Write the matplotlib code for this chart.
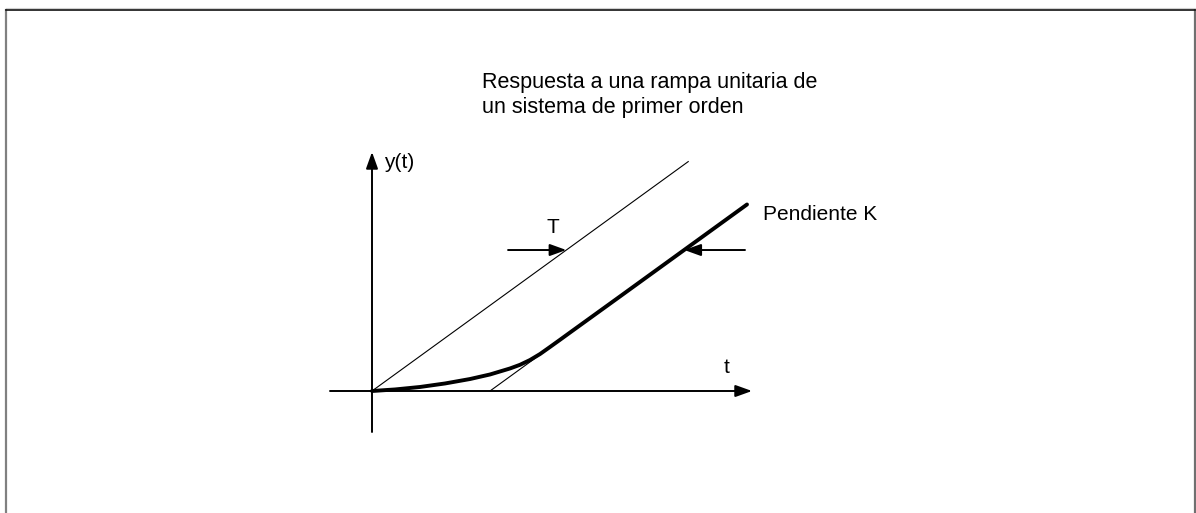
import numpy as np
import matplotlib
matplotlib.use('Agg')
import matplotlib.pyplot as plt

plt.rcParams['font.family'] = ['Liberation Sans', 'DejaVu Sans']

# unidades: T = 1, pendiente K = 1
T = 1.0
K = 1.0
t_ramp = [0.0, 2.68]
t_shift = [1.0, 3.18]
# respuesta
t_resp = [0.0, 0.195, 0.407, 0.619, 0.831, 1.0, 1.169, 1.254, 1.339, 1.424,
          1.508, 1.593, 1.678, 2.102, 3.178]
y_resp = [0.0, 0.018, 0.047, 0.088, 0.140, 0.193, 0.263, 0.306, 0.362, 0.432,
          0.514, 0.598, 0.683, 1.105, 2.179]

title = 'Respuesta a una rampa unitaria de\nun sistema de primer orden'
label_y = 'y(t)'
label_t = 't'
label_T = 'T'
label_K = 'Pendiente K'

# escala del dibujo en pixeles
ox, oy = 372, 391
sx, sy = 118.0, 85.6
W, H = 1196, 513


def px(x, y):
    return (x - ox) / sx, (oy - y) / sy


def arrow(ax, start, tip, lw):
    ax.annotate('', xy=tip, xytext=start,
                arrowprops=dict(arrowstyle='-|>,head_length=1.0,head_width=0.36',
                                mutation_scale=10, lw=lw, color='black',
                                shrinkA=0, shrinkB=0))


def main():
    fig = plt.figure(figsize=(W / 100, H / 100), dpi=100)
    ax = fig.add_axes([0, 0, 1, 1])
    ax.set_xlim(-ox / sx, (W - ox) / sx)
    ax.set_ylim(-(H - oy) / sy, oy / sy)
    ax.axis('off')

    # marco
    ax.plot([5.5 / W, 5.5 / W], [0, 1 - 9.5 / H], color='#808080', lw=1.6,
            transform=ax.transAxes, clip_on=False)
    ax.plot([1194.5 / W, 1194.5 / W], [0, 1 - 9.5 / H], color='#707070', lw=1.6,
            transform=ax.transAxes, clip_on=False)
    ax.plot([5.5 / W, 1194.5 / W], [1 - 8 / H, 1 - 8 / H], color='#d0d0d0', lw=0.8,
            transform=ax.transAxes, clip_on=False)
    ax.plot([5.5 / W, 1194.5 / W], [1 - 9.8 / H, 1 - 9.8 / H], color='#111111', lw=1.2,
            transform=ax.transAxes, clip_on=False)

    # ejes
    arrow(ax, px(330, oy), px(752, oy), 1.4)
    arrow(ax, px(ox, 432), px(ox, 152), 1.4)

    # rampa de entrada y asintota desplazada
    t_r = np.array(t_ramp)
    ax.plot(t_r, K * t_r, color='black', lw=0.8)
    t_s = np.array(t_shift)
    ax.plot(t_s, K * (t_s - T), color='black', lw=0.8)

    # respuesta
    ax.plot(t_resp, y_resp, color='black', lw=2.8, solid_capstyle='round',
            solid_joinstyle='round')

    # flechas de T
    yT = 1.647
    arrow(ax, (1.153, yT), (yT / K, yT), 1.4)
    arrow(ax, (3.161, yT), (yT / K + T, yT), 1.4)

    ax.text(*px(482, 113), title, fontsize=15.5, va='baseline', ha='left', linespacing=1.25)
    ax.text(*px(384, 163), label_y, fontsize=15, va='center', ha='left')
    ax.text(*px(727, 373), label_t, fontsize=15, va='baseline', ha='center')
    ax.text(*px(553, 233), label_T, fontsize=15, va='baseline', ha='center')
    ax.text(*px(763, 220), label_K, fontsize=15, va='baseline', ha='left')

    fig.savefig('out.png', dpi=100)


if __name__ == '__main__':
    main()
